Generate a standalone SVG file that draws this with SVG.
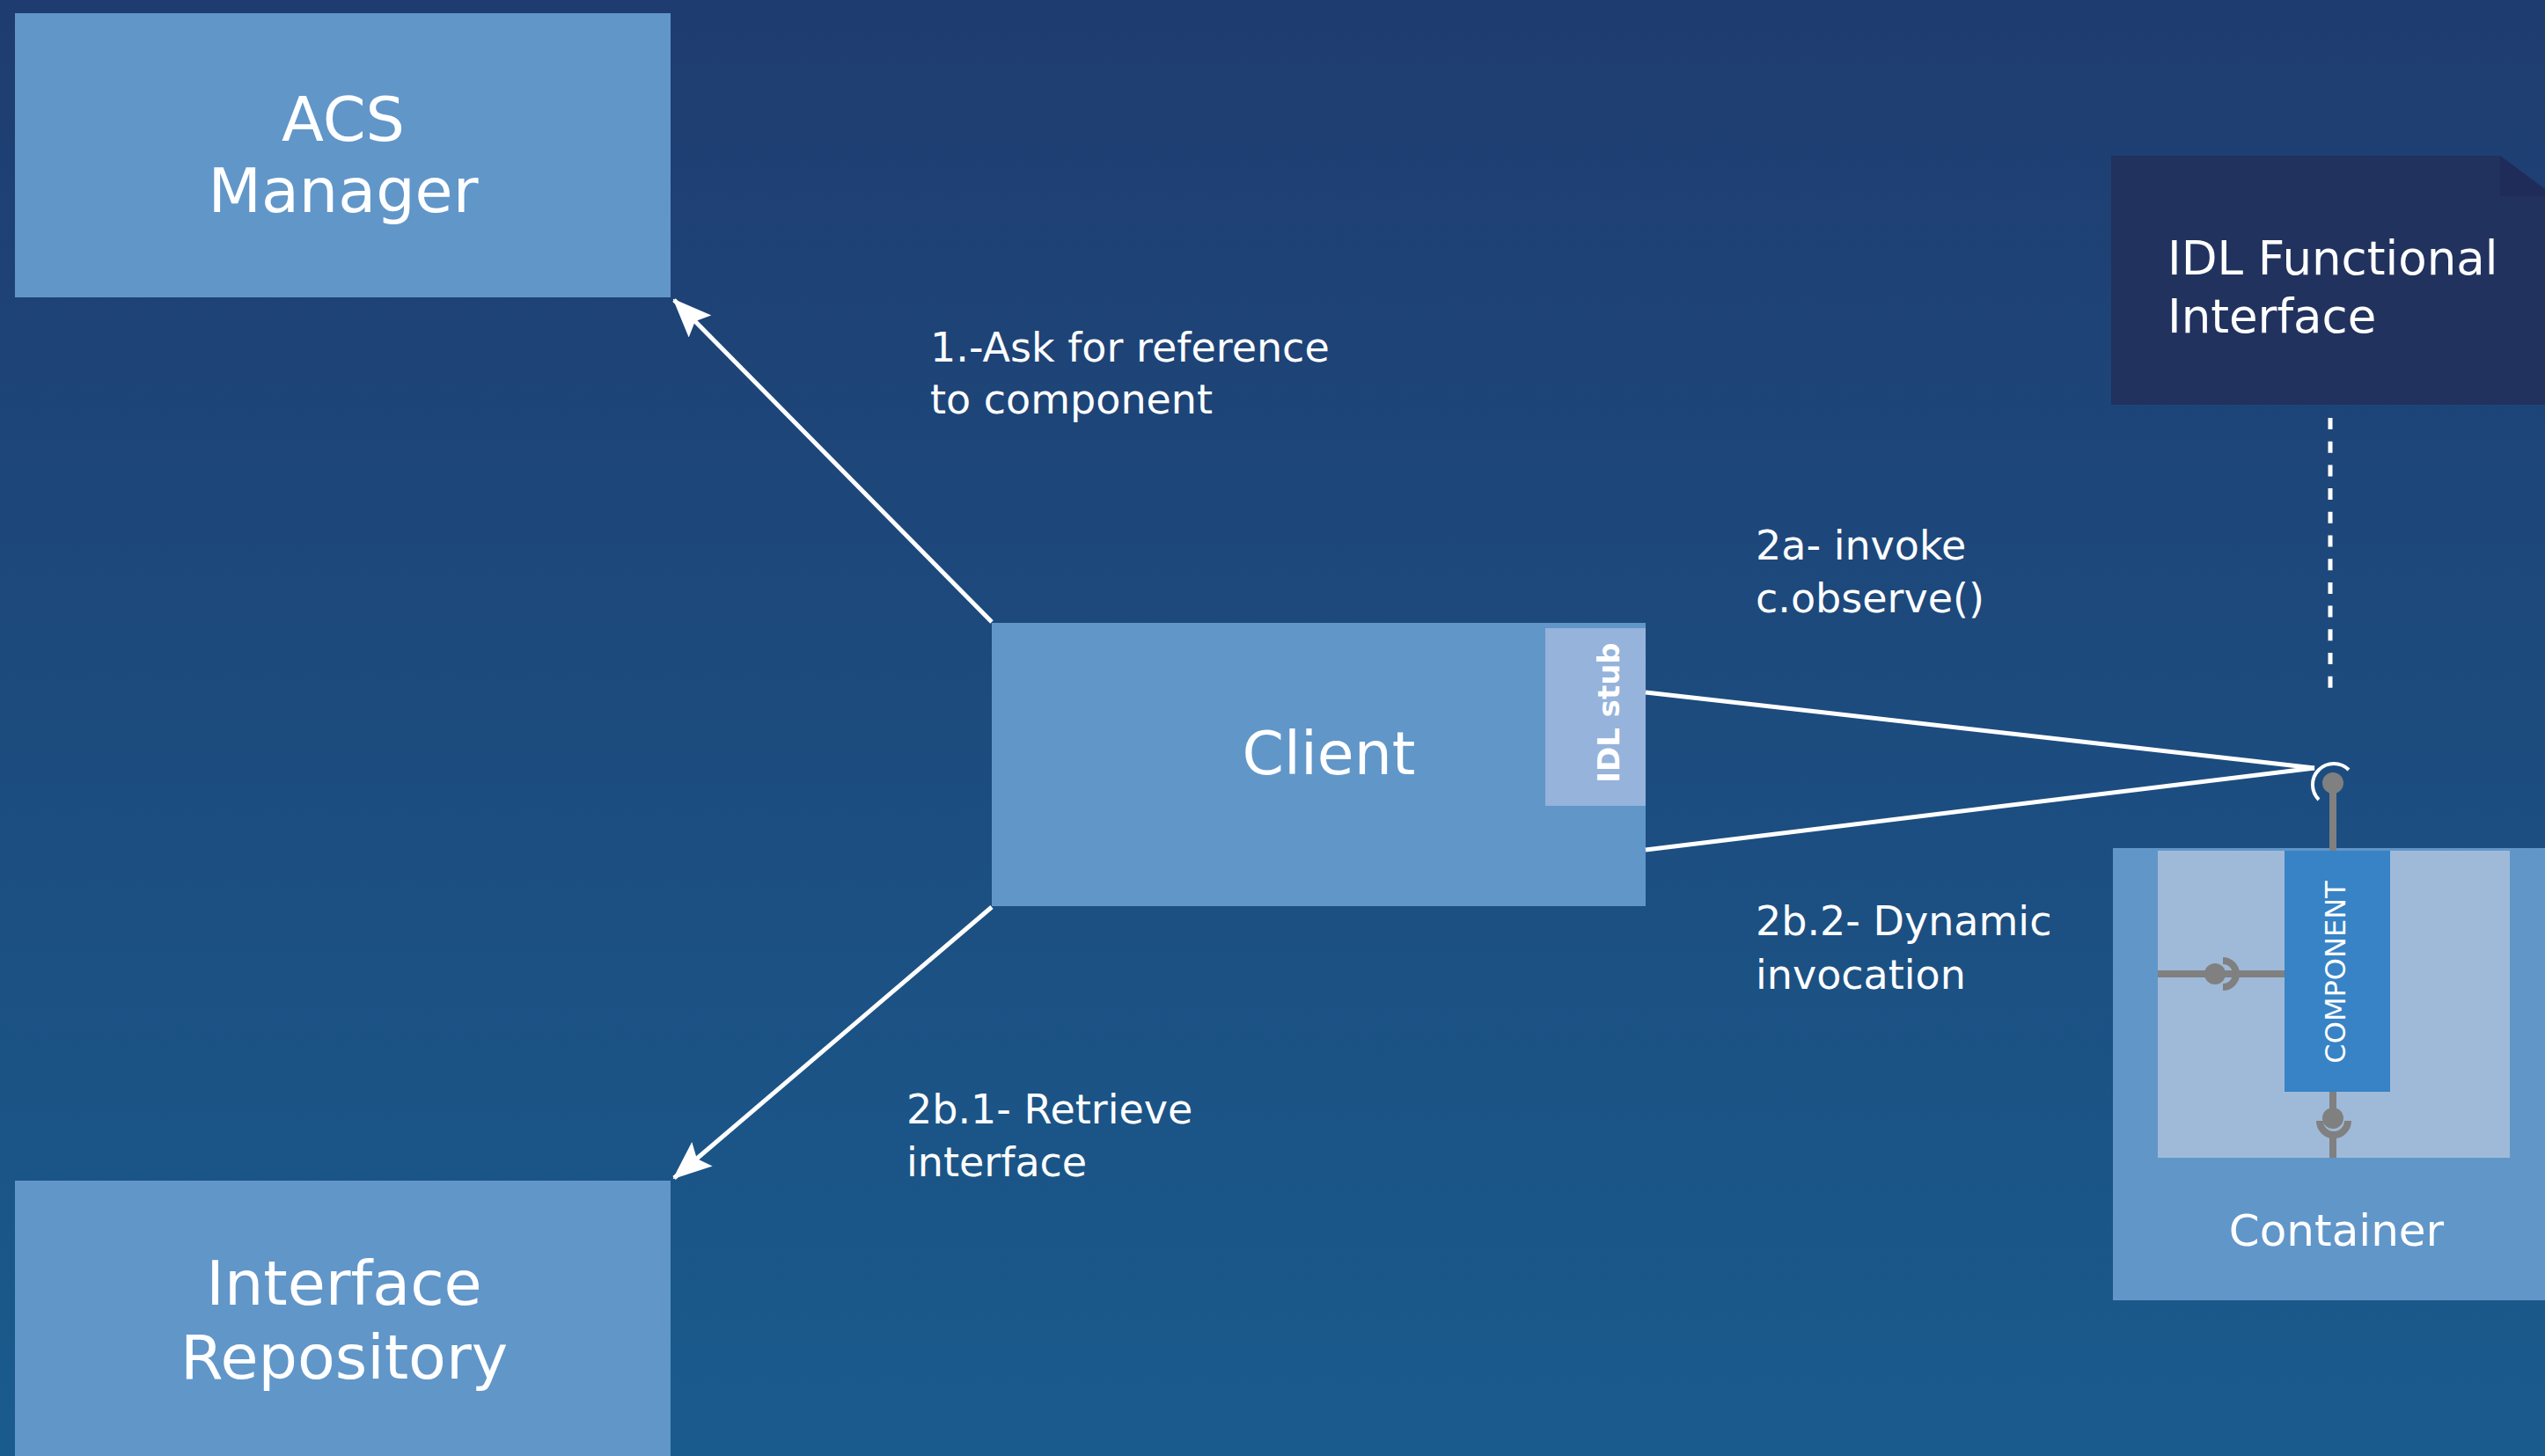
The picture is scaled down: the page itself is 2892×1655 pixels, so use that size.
<svg xmlns="http://www.w3.org/2000/svg" width="2892" height="1655" viewBox="0 0 2892 1655">
  <defs>
    <linearGradient id="bg" x1="0" y1="0" x2="0" y2="1">
      <stop offset="0" stop-color="#1f3c70"/>
      <stop offset="1" stop-color="#1a5b8d"/>
    </linearGradient>
    <marker id="arrowhead" markerUnits="userSpaceOnUse" markerWidth="44" markerHeight="36" viewBox="0 0 44 36" refX="42" refY="18" orient="auto">
      <path d="M0,0 L44,18 L0,36 L8,18 Z" fill="#ffffff"/>
    </marker>
    <style>
      .box { fill: #6196c9; }
      .title { font-family: "DejaVu Sans", "Liberation Sans", sans-serif; fill: #ffffff; font-size: 70px; text-anchor: middle; }
      .label { font-family: "DejaVu Sans", "Liberation Sans", sans-serif; fill: #ffffff; font-size: 46px; }
      .link { stroke: #ffffff; stroke-width: 5; fill: none; }
      .port { stroke: #808080; stroke-width: 8; fill: none; }
      .ball { fill: #808080; }
    </style>
  </defs>

  <rect x="0" y="0" width="2892" height="1655" fill="url(#bg)"/>

  <!-- ACS Manager -->
  <g id="acs-manager">
    <rect class="box" x="17" y="15" width="745" height="323"/>
    <text class="title" x="390" y="160">ACS</text>
    <text class="title" x="390" y="241">Manager</text>
  </g>

  <!-- Interface Repository -->
  <g id="interface-repository">
    <rect class="box" x="17" y="1342" width="745" height="313"/>
    <text class="title" x="391" y="1483">Interface</text>
    <text class="title" x="391" y="1567">Repository</text>
  </g>

  <!-- Client with its IDL stub -->
  <g id="client">
    <rect class="box" x="1127" y="708" width="743" height="322"/>
    <text class="title" x="1510" y="880" style="font-size:68px">Client</text>
    <rect x="1756" y="714" width="114" height="202" fill="#96b3db"/>
    <text transform="translate(1840,810) rotate(-90)" text-anchor="middle" font-family="DejaVu Sans, Liberation Sans, sans-serif" font-weight="bold" font-size="34" fill="#ffffff">IDL stub</text>
  </g>

  <!-- IDL Functional Interface note -->
  <g id="idl-functional-interface">
    <polygon points="2399,177 2841,177 2892,215 2892,460 2399,460" fill="#21325e"/>
    <polygon points="2841,177 2892,215 2892,223 2841,223" fill="#1f2c59"/>
    <text class="label" x="2463" y="312" style="font-size:53px">IDL Functional</text>
    <text class="label" x="2463" y="378" style="font-size:53px">Interface</text>
  </g>

  <!-- Container holding the component -->
  <g id="container">
    <rect class="box" x="2401" y="964" width="491" height="514"/>
    <rect x="2452" y="967" width="400" height="349" fill="#9fbad8"/>
    <text class="label" x="2655" y="1416" text-anchor="middle" style="font-size:50px">Container</text>
  </g>

  <g id="component">
    <rect x="2596" y="967" width="120" height="274" fill="#3783c5"/>
    <text transform="translate(2665,1105) rotate(-90)" text-anchor="middle" font-family="DejaVu Sans, Liberation Sans, sans-serif" font-size="32" fill="#ffffff">COMPONENT</text>
  </g>

  <!-- Component ports -->
  <g id="ports">
    <!-- provided interface (top) -->
    <line class="port" x1="2651" y1="890" x2="2651" y2="967"/>
    <circle class="ball" cx="2651" cy="890" r="12"/>
    <!-- left receptacle -->
    <line class="port" x1="2452" y1="1107" x2="2596" y2="1107"/>
    <circle class="ball" cx="2517" cy="1107" r="12"/>
    <path class="port" d="M2526,1092 A15,15 0 0 1 2526,1122"/>
    <!-- bottom receptacle -->
    <line class="port" x1="2651" y1="1241" x2="2651" y2="1262"/>
    <circle class="ball" cx="2651" cy="1271" r="12"/>
    <path class="port" d="M2636,1274 A16,16 0 0 0 2668,1274"/>
    <line class="port" x1="2651" y1="1290" x2="2651" y2="1316"/>
  </g>

  <!-- Connectors -->
  <g id="connectors">
    <line class="link" x1="1127" y1="707" x2="766" y2="341" marker-end="url(#arrowhead)"/>
    <line class="link" x1="1127" y1="1031" x2="766" y2="1339" marker-end="url(#arrowhead)"/>
    <line class="link" x1="1870" y1="787" x2="2630" y2="873"/>
    <line class="link" x1="1870" y1="966" x2="2630" y2="873"/>
    <path stroke="#ffffff" stroke-width="4" fill="none" d="M2635,909 A24,24 0 0 1 2669,875"/>
    <line x1="2648" y1="475" x2="2648" y2="782" stroke="#ffffff" stroke-width="5" stroke-dasharray="13,13.7"/>
  </g>

  <!-- Connector labels -->
  <g id="labels">
    <text class="label" x="1057" y="411">1.-Ask for reference</text>
    <text class="label" x="1057" y="470">to component</text>
    <text class="label" x="1995" y="636">2a- invoke</text>
    <text class="label" x="1995" y="696">c.observe()</text>
    <text class="label" x="1995" y="1063">2b.2- Dynamic</text>
    <text class="label" x="1995" y="1124">invocation</text>
    <text class="label" x="1030" y="1277">2b.1- Retrieve</text>
    <text class="label" x="1030" y="1337">interface</text>
  </g>
</svg>
